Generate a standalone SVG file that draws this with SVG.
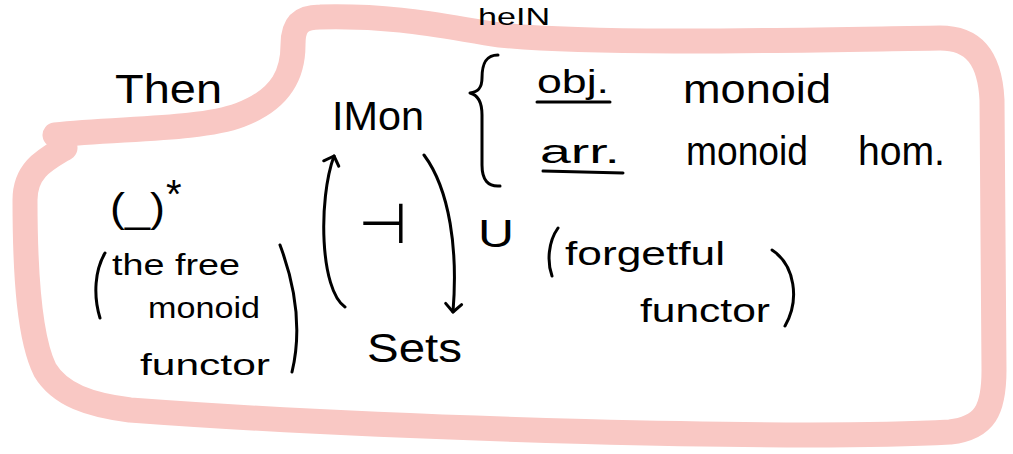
<svg xmlns="http://www.w3.org/2000/svg" width="1013" height="454" viewBox="0 0 1013 454">
<style>
.t{font-family:"Liberation Sans","DejaVu Sans",sans-serif;fill:#000}
.ink{fill:none;stroke:#000;stroke-width:3;stroke-linecap:round;stroke-linejoin:round}
</style>
<defs>
<marker id="ah" viewBox="0 0 20 20" refX="10" refY="10" markerWidth="20" markerHeight="20" markerUnits="userSpaceOnUse" orient="auto">
<path d="M2,2 L10,10 L2,18" fill="none" stroke="#000" stroke-width="3" stroke-linecap="round" stroke-linejoin="round"/>
</marker>
</defs>
<rect width="1013" height="454" fill="#fff"/>
<g id="frame">
<path d="M 55,135 C 120,128 200,130 240,115 C 285,98 293,70 293,45 C 293,25 300,17 320,17 C 400,15 450,28 500,35 C 600,45 800,40 940,38 C 975,38 990,60 992,100 L 994,370 C 994,410 985,428 950,432 C 800,440 400,430 130,410 C 90,405 60,395 45,370 C 30,340 25,280 25,200 C 25,170 45,160 65,148" fill="none" stroke="#f9c8c4" stroke-width="25" stroke-linecap="round" stroke-linejoin="round"/>
</g>
<g id="title">
<text class="t" x="478" y="25" font-size="24" textLength="72" lengthAdjust="spacingAndGlyphs">heIN</text>
</g>
<g id="then">
<text class="t" x="115" y="103" font-size="40" textLength="107" lengthAdjust="spacingAndGlyphs">Then</text>
</g>
<g id="mon">
<text class="t" x="332" y="130" font-size="40" textLength="92" lengthAdjust="spacingAndGlyphs">IMon</text>
</g>
<g id="definition">
<path class="ink" d="M 498,55 C 485,55 482,65 482,78 C 482,88 478,92 470,93 C 478,95 482,102 482,115 L 482,165 C 482,180 488,187 500,186"/>
<text class="t" x="537" y="93" font-size="34" textLength="72" lengthAdjust="spacingAndGlyphs">obj.</text>
<path class="ink" d="M 537,102 L 610,102"/>
<text class="t" x="683" y="103" font-size="40" textLength="148" lengthAdjust="spacingAndGlyphs">monoid</text>
<text class="t" x="540" y="163" font-size="34" textLength="80" lengthAdjust="spacingAndGlyphs">arr.</text>
<path class="ink" d="M 543,171 L 623,173"/>
<text class="t" x="686" y="165" font-size="40" textLength="122" lengthAdjust="spacingAndGlyphs">monoid</text>
<text class="t" x="858" y="165" font-size="40" textLength="87" lengthAdjust="spacingAndGlyphs">hom.</text>
</g>
<g id="free">
<text class="t" x="110" y="222" font-size="40" textLength="55" lengthAdjust="spacingAndGlyphs">(_)</text>
<text class="t" x="166" y="208" font-size="40">*</text>
<path class="ink" d="M 105,253 C 95,270 93,295 100,318"/>
<text class="t" x="112" y="275" font-size="30" textLength="128" lengthAdjust="spacingAndGlyphs">the free</text>
<text class="t" x="148" y="318" font-size="30" textLength="112" lengthAdjust="spacingAndGlyphs">monoid</text>
<text class="t" x="140" y="375" font-size="30" textLength="130" lengthAdjust="spacingAndGlyphs">functor</text>
<path class="ink" d="M 280,245 C 295,285 302,330 292,372"/>
</g>
<g id="adj">
<text class="t" x="383" y="243" font-size="56" text-anchor="middle">⊣</text>
</g>
<g id="u">
<text class="t" x="478" y="247" font-size="38" textLength="36" lengthAdjust="spacingAndGlyphs">U</text>
</g>
<g id="sets">
<text class="t" x="367" y="362" font-size="40" textLength="95" lengthAdjust="spacingAndGlyphs">Sets</text>
</g>
<g id="forget">
<path class="ink" d="M 558,228 C 548,242 547,262 552,276"/>
<text class="t" x="565" y="265" font-size="34" textLength="160" lengthAdjust="spacingAndGlyphs">forgetful</text>
<text class="t" x="640" y="322" font-size="34" textLength="130" lengthAdjust="spacingAndGlyphs">functor</text>
<path class="ink" d="M 772,250 C 795,265 800,300 785,326"/>
</g>
<g id="connectors">
<path class="ink" d="M 345,307 C 320,290 318,200 334,156" marker-end="url(#ah)"/>
<path class="ink" d="M 424,155 C 450,190 458,250 453,312" marker-end="url(#ah)"/>
</g>
</svg>
